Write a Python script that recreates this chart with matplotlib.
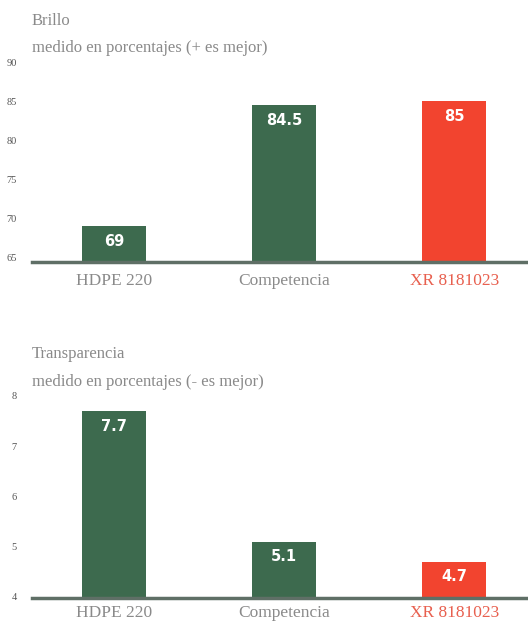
import matplotlib
matplotlib.use("Agg")
import matplotlib.pyplot as plt

categories = ["HDPE 220", "Competencia", "XR 8181023"]
brillo = [69, 84.5, 85]
transparencia = [7.7, 5.1, 4.7]
brillo_ticks = [65, 70, 75, 80, 85, 90]
transp_ticks = [4, 5, 6, 7, 8]

GREEN = "#3d6a4e"
RED = "#f2442f"
GREY = "#8a8a8a"
bar_colors = [GREEN, GREEN, RED]
label_colors = [GREY, GREY, "#e8604f"]

fig = plt.figure(figsize=(5.28, 6.24), dpi=100)


def panel(rect, values, ticks, ylim, title, subtitle, xpad):
    ax = fig.add_axes(rect)
    base = ylim[0]
    x = range(len(values))
    # bars rise from the axis floor
    ax.bar(x, [v - base for v in values], width=0.376, color=bar_colors,
           bottom=base, zorder=2)
    ax.set_xlim(-0.482, 2.435)
    ax.set_ylim(*ylim)
    ax.set_yticks(ticks)
    ax.set_yticklabels([str(t) for t in ticks], fontsize=7.5, color="#555555",
                       family="Liberation Serif")
    ax.tick_params(axis="y", length=0, pad=11)
    ax.set_xticks(list(x))
    ax.set_xticklabels(categories, fontsize=12.5, family="Liberation Serif")
    for lbl, c in zip(ax.get_xticklabels(), label_colors):
        lbl.set_color(c)
    ax.tick_params(axis="x", length=0, pad=xpad)
    for s in ["top", "right", "left"]:
        ax.spines[s].set_visible(False)
    ax.spines["bottom"].set_color("#5f6f66")
    ax.spines["bottom"].set_linewidth(2.5)
    span = ylim[1] - ylim[0]
    for xi, v in zip(x, values):
        ax.text(xi, v - span * 0.075, f"{v:g}", ha="center", va="center",
                color="white", fontsize=10.5, fontweight="bold",
                family="DejaVu Sans Condensed")
    top = rect[1] + rect[3]
    fig.text(rect[0], top + 0.060, title,
             fontsize=12, color=GREY, family="Liberation Serif")
    fig.text(rect[0], top + 0.016, subtitle,
             fontsize=12, color=GREY, family="Liberation Serif")
    return ax


panel([0.0606, 0.580, 0.94, 0.3205], brillo, brillo_ticks, (64.4, 90),
      "Brillo", "medido en porcentajes (+ es mejor)", 8)

panel([0.0606, 0.0417, 0.94, 0.324], transparencia, transp_ticks, (3.98, 8),
      "Transparencia", "medido en porcentajes (- es mejor)", 5)

fig.savefig("out.png", dpi=100, facecolor="white")
